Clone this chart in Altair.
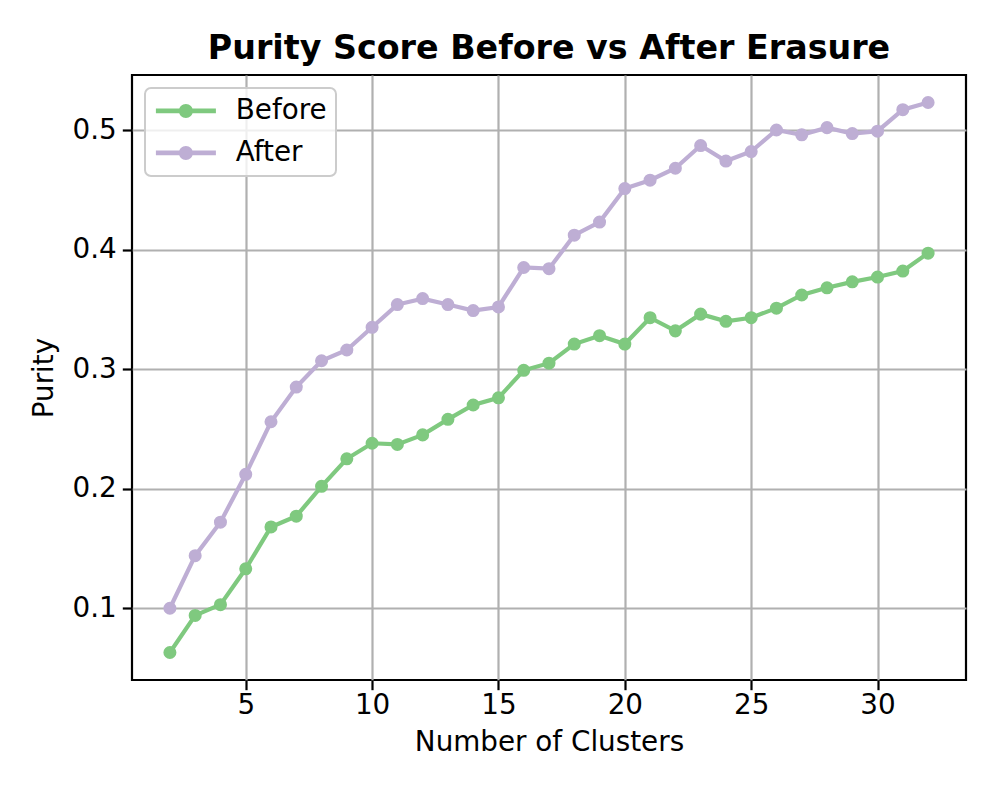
import altair as alt
import pandas as pd

clusters = list(range(2, 33))
before = [0.063, 0.094, 0.103, 0.133, 0.168, 0.177, 0.202, 0.225, 0.238, 0.237,
          0.245, 0.258, 0.270, 0.276, 0.299, 0.305, 0.321, 0.328, 0.321, 0.343,
          0.332, 0.346, 0.340, 0.343, 0.351, 0.362, 0.368, 0.373, 0.377, 0.382,
          0.397]
after = [0.100, 0.144, 0.172, 0.212, 0.256, 0.285, 0.307, 0.316, 0.335, 0.354,
         0.359, 0.354, 0.349, 0.352, 0.385, 0.384, 0.412, 0.423, 0.451, 0.458,
         0.468, 0.487, 0.474, 0.482, 0.500, 0.496, 0.502, 0.497, 0.499, 0.517,
         0.523]
series_names = ["Before", "After"]
series_colors = ["#7fc97f", "#beaed4"]
x_ticks = [5, 10, 15, 20, 25, 30]
y_ticks = [0.1, 0.2, 0.3, 0.4, 0.5]

rows = []
for name, vals in zip(series_names, [before, after]):
    for k, v in zip(clusters, vals):
        rows.append({"clusters": k, "purity": v, "series": name})
df = pd.DataFrame(rows)

FONT = "DejaVu Sans"
FS = 27.8

xenc = alt.X("clusters:Q",
             scale=alt.Scale(domain=[0.5, 33.5], nice=False, zero=False),
             axis=alt.Axis(values=x_ticks, title="Number of Clusters", format="d"))
yenc = alt.Y("purity:Q",
             scale=alt.Scale(domain=[0.040, 0.546], nice=False, zero=False),
             axis=alt.Axis(values=y_ticks, title="Purity", format=".1f"))
color_scale = alt.Scale(domain=series_names, range=series_colors)

legend_path = ("M-3,-0.23L3,-0.23L3,0.23L-3,0.23Z"
               "M-0.7,0A0.7,0.7,0,1,1,0.7,0A0.7,0.7,0,1,1,-0.7,0Z")

lines = alt.Chart(df).mark_line(strokeWidth=4.2).encode(
    x=xenc, y=yenc,
    color=alt.Color("series:N", scale=color_scale, legend=None),
    order="clusters:Q",
)
points = alt.Chart(df).mark_point(filled=True, size=170, opacity=1).encode(
    x=xenc, y=yenc,
    color=alt.Color("series:N", scale=color_scale,
                    legend=alt.Legend(title=None, orient="none", legendX=13, legendY=13,
                                      symbolType=legend_path, symbolSize=400,
                                      symbolStrokeWidth=0, symbolOffset=18,
                                      labelOffset=36, padding=9, rowPadding=13,
                                      fillColor="rgba(255,255,255,0.8)",
                                      strokeColor="#cccccc", cornerRadius=6,
                                      labelFontSize=FS, labelFont=FONT,
                                      labelColor="black", symbolOpacity=1)),
)

chart = alt.layer(lines, points).resolve_legend(color="independent").properties(
    width=834, height=605,
    autosize=alt.AutoSizeParams(type="none"),
    padding={"left": 124, "top": 67, "right": 22, "bottom": 110},
    title=alt.Title("Purity Score Before vs After Erasure", font=FONT, fontSize=33.3,
                    fontWeight="bold", color="black", anchor="middle", offset=9),
).configure_view(
    stroke="black", strokeWidth=2.2
).configure_legend(
    strokeWidth=2
).configure_axis(
    grid=True, gridColor="#b0b0b0", gridWidth=2.2, domain=False,
    tickColor="black", tickWidth=2.2, tickSize=9.7,
    labelFont=FONT, labelFontSize=FS, labelColor="black", labelPadding=6,
    titleFont=FONT, titleFontSize=FS, titleFontWeight="normal", titleColor="black",
).configure_axisX(titlePadding=9, labelPadding=2).configure_axisY(titlePadding=14)

chart.save("out.html", embed_options={"renderer": "svg", "actions": False})
